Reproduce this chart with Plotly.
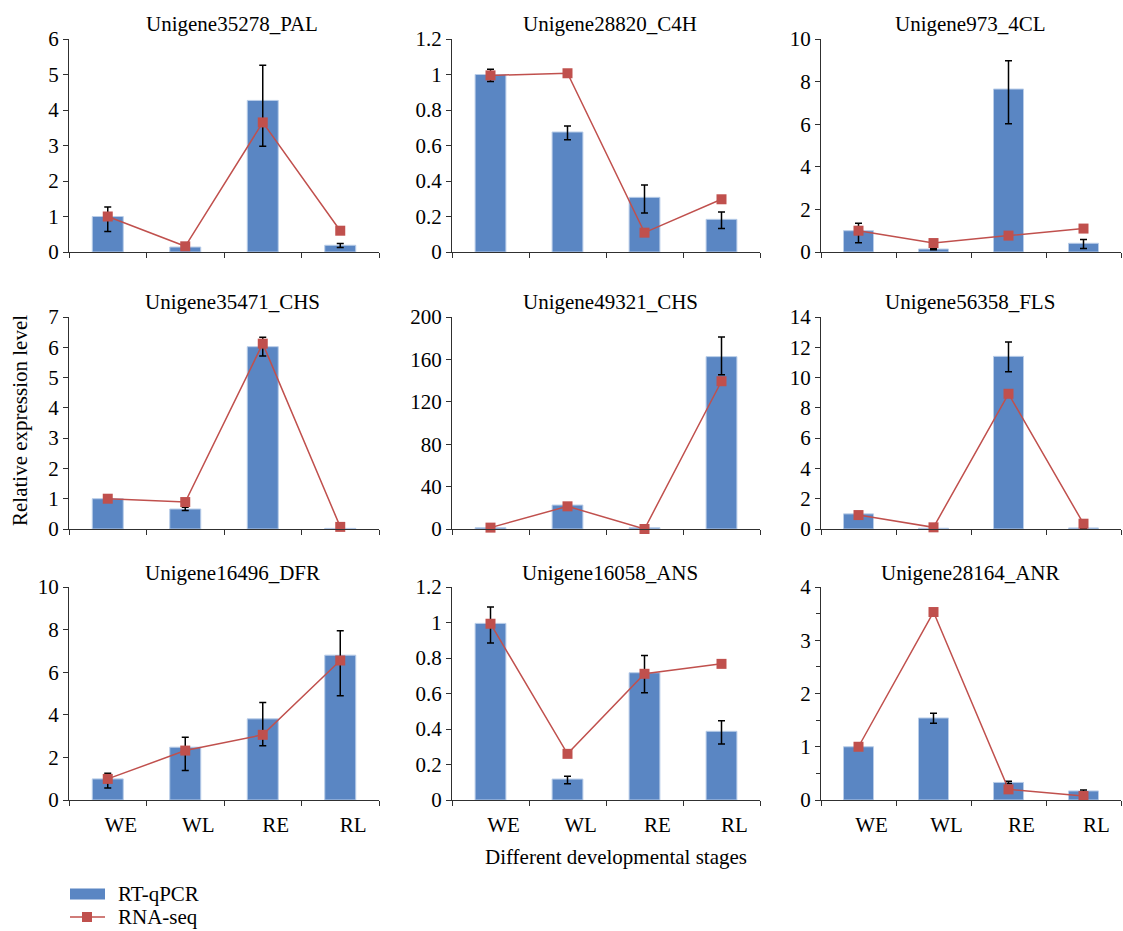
import plotly.graph_objects as go
from plotly.subplots import make_subplots

W, H = 1123, 931
STAGES = ["WE", "WL", "RE", "RL"]

TITLES = ["Unigene35278_PAL", "Unigene28820_C4H", "Unigene973_4CL",
          "Unigene35471_CHS", "Unigene49321_CHS", "Unigene56358_FLS",
          "Unigene16496_DFR", "Unigene16058_ANS", "Unigene28164_ANR"]

PAL_QPCR = [1.0, 0.14, 4.27, 0.19]
PAL_UP = [0.27, 0.03, 0.99, 0.05]
PAL_DN = [0.42, 0.02, 1.29, 0.06]
PAL_SEQ = [1.0, 0.16, 3.65, 0.60]

C4H_QPCR = [1.0, 0.676, 0.308, 0.184]
C4H_UP = [0.03, 0.034, 0.069, 0.041]
C4H_DN = [0.04, 0.043, 0.088, 0.051]
C4H_SEQ = [0.995, 1.007, 0.109, 0.297]

CL4_QPCR = [1.0, 0.14, 7.65, 0.41]
CL4_UP = [0.35, 0.04, 1.33, 0.18]
CL4_DN = [0.56, 0.04, 1.63, 0.24]
CL4_SEQ = [1.0, 0.42, 0.77, 1.10]

CHS1_QPCR = [1.0, 0.66, 6.02, 0.02]
CHS1_UP = [0.02, 0.06, 0.31, 0.01]
CHS1_DN = [0.02, 0.05, 0.31, 0.01]
CHS1_SEQ = [1.0, 0.89, 6.12, 0.07]

CHS2_QPCR = [1.2, 22.6, 1.2, 162.6]
CHS2_UP = [0.3, 0.5, 0.3, 18.5]
CHS2_DN = [0.3, 0.5, 0.3, 17.0]
CHS2_SEQ = [1.3, 21.4, 0.0, 139.4]

FLS_QPCR = [1.0, 0.05, 11.4, 0.07]
FLS_UP = [0.05, 0.02, 0.95, 0.02]
FLS_DN = [0.05, 0.02, 1.02, 0.02]
FLS_SEQ = [0.92, 0.11, 8.93, 0.35]

DFR_QPCR = [0.99, 2.48, 3.81, 6.80]
DFR_UP = [0.26, 0.47, 0.77, 1.15]
DFR_DN = [0.43, 1.10, 1.26, 1.91]
DFR_SEQ = [0.99, 2.32, 3.06, 6.55]

ANS_QPCR = [0.995, 0.118, 0.717, 0.387]
ANS_UP = [0.092, 0.016, 0.097, 0.059]
ANS_DN = [0.111, 0.026, 0.113, 0.071]
ANS_SEQ = [0.993, 0.26, 0.711, 0.767]

ANR_QPCR = [1.0, 1.54, 0.33, 0.17]
ANR_UP = [0.02, 0.09, 0.02, 0.02]
ANR_DN = [0.02, 0.10, 0.02, 0.02]
ANR_SEQ = [1.0, 3.53, 0.20, 0.075]

Y_MAX = [6, 1.2, 10, 7, 200, 14, 10, 1.2, 4]
Y_DTICK = [1, 0.2, 2, 1, 40, 2, 2, 0.2, 1]

PANELS = [
    (PAL_QPCR, PAL_UP, PAL_DN, PAL_SEQ),
    (C4H_QPCR, C4H_UP, C4H_DN, C4H_SEQ),
    (CL4_QPCR, CL4_UP, CL4_DN, CL4_SEQ),
    (CHS1_QPCR, CHS1_UP, CHS1_DN, CHS1_SEQ),
    (CHS2_QPCR, CHS2_UP, CHS2_DN, CHS2_SEQ),
    (FLS_QPCR, FLS_UP, FLS_DN, FLS_SEQ),
    (DFR_QPCR, DFR_UP, DFR_DN, DFR_SEQ),
    (ANS_QPCR, ANS_UP, ANS_DN, ANS_SEQ),
    (ANR_QPCR, ANR_UP, ANR_DN, ANR_SEQ),
]

BLUE = "#5A86C3"
RED = "#C0504D"
FONT = "Liberation Serif"
FS = 21
AX = "#303030"

COL_PX = [(69, 379), (452, 760), (821, 1121)]
ROW_PX = [(39, 252), (317, 529), (587, 800)]
TITLE_X = [232, 610, 970]
TITLE_Y = [24, 302, 573]

fig = make_subplots(rows=3, cols=3)

for i, (q, up, dn, seq) in enumerate(PANELS):
    r, c = i // 3 + 1, i % 3 + 1
    fig.add_trace(go.Bar(
        x=STAGES, y=q, name="RT-qPCR", showlegend=False,
        marker=dict(color=BLUE, line=dict(color="#B9CDE8", width=1)),
        error_y=dict(type="data", array=up, arrayminus=dn, symmetric=False,
                     color="black", thickness=1.5, width=3.5),
    ), row=r, col=c)
    fig.add_trace(go.Scatter(
        x=STAGES, y=seq, name="RNA-seq", showlegend=False,
        mode="lines+markers", cliponaxis=False,
        line=dict(color=RED, width=1.5),
        marker=dict(symbol="square", size=10, color=RED),
    ), row=r, col=c)

    xa = "xaxis" if i == 0 else f"xaxis{i+1}"
    ya = "yaxis" if i == 0 else f"yaxis{i+1}"
    x0, x1 = COL_PX[c - 1]
    y0, y1 = ROW_PX[r - 1]
    fig.layout[xa].update(
        domain=[x0 / W, x1 / W], type="category", range=[-0.5, 3.5],
        automargin=False,
        showline=True, linecolor=AX, linewidth=1, ticks="outside",
        tickson="boundaries", ticklen=5, tickcolor=AX, showgrid=False,
        showticklabels=(r == 3), ticklabelstandoff=6, ticklabelshift=13,
        tickfont=dict(family=FONT, size=FS, color="black"),
    )
    yopts = dict(
        domain=[1 - y1 / H, 1 - y0 / H], range=[0, Y_MAX[i]], dtick=Y_DTICK[i],
        automargin=False,
        tick0=0, showline=True, linecolor=AX, linewidth=1, ticks="outside",
        ticklen=5, tickcolor=AX, showgrid=False, zeroline=False,
        tickfont=dict(family=FONT, size=FS, color="black"),
    )
    if i == 8:
        yopts["minor"] = dict(dtick=0.5, ticks="outside", ticklen=4,
                              tickcolor=AX, showgrid=False)
    fig.layout[ya].update(**yopts)

    fig.add_annotation(text=TITLES[i], xref="paper", yref="paper",
                       x=TITLE_X[c - 1] / W, y=1 - TITLE_Y[r - 1] / H,
                       xanchor="center", yanchor="middle", showarrow=False,
                       font=dict(family=FONT, size=FS, color="black"))

fig.add_annotation(text="Relative expression level", xref="paper", yref="paper",
                   x=20 / W, y=1 - 421 / H, textangle=-90, showarrow=False,
                   xanchor="center", yanchor="middle",
                   font=dict(family=FONT, size=FS, color="black"))
fig.add_annotation(text="Different developmental stages", xref="paper", yref="paper",
                   x=616 / W, y=1 - 857 / H, showarrow=False,
                   xanchor="center", yanchor="middle",
                   font=dict(family=FONT, size=FS, color="black"))

# Manual legend (matches the wide swatch of the original)
LEG_Y = [894, 917]
fig.add_shape(type="rect", xref="paper", yref="paper",
              x0=70 / W, x1=105 / W, y0=1 - (LEG_Y[0] + 5.5) / H, y1=1 - (LEG_Y[0] - 5.5) / H,
              fillcolor=BLUE, line=dict(width=0))
fig.add_shape(type="line", xref="paper", yref="paper",
              x0=70 / W, x1=105 / W, y0=1 - LEG_Y[1] / H, y1=1 - LEG_Y[1] / H,
              line=dict(color=RED, width=1.5))
fig.add_shape(type="rect", xref="paper", yref="paper",
              x0=82 / W, x1=92 / W, y0=1 - (LEG_Y[1] + 5) / H, y1=1 - (LEG_Y[1] - 5) / H,
              fillcolor=RED, line=dict(width=0))
for txt, yy in zip(["RT-qPCR", "RNA-seq"], LEG_Y):
    fig.add_annotation(text=txt, xref="paper", yref="paper",
                       x=116 / W, y=1 - yy / H, xanchor="left", yanchor="middle",
                       showarrow=False,
                       font=dict(family=FONT, size=FS, color="black"))

fig.update_layout(
    template="none",
    width=W, height=H, margin=dict(l=0, r=0, t=0, b=0, autoexpand=False),
    paper_bgcolor="white", plot_bgcolor="white",
    bargap=0.6, showlegend=False,
)

fig.write_html("out.html",
               config={"displayModeBar": False},
               post_script="document.body.style.margin='0';"
                           "document.body.style.overflow='hidden';")
